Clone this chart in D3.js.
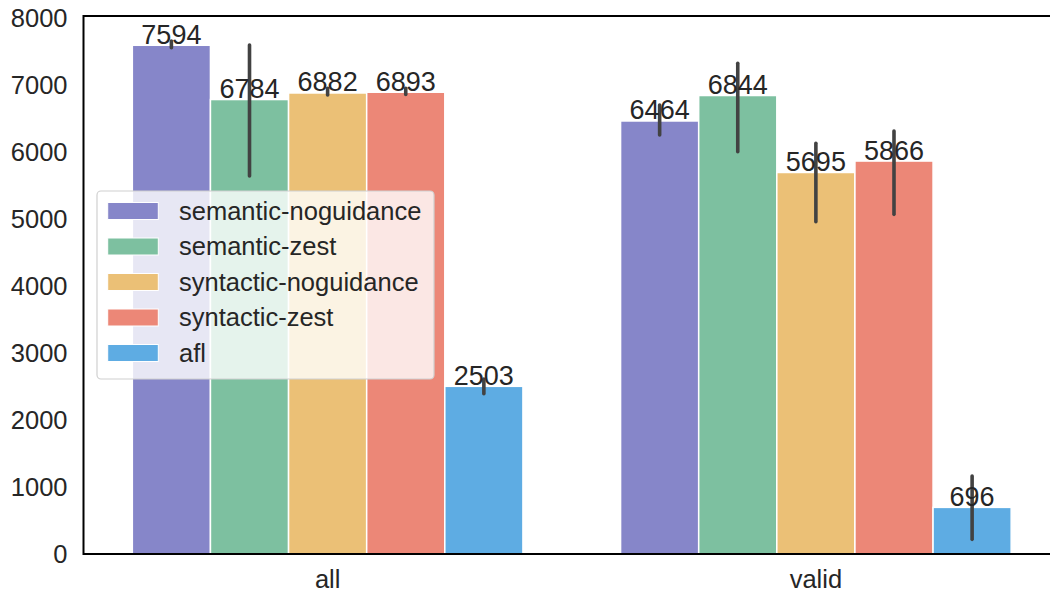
<!DOCTYPE html>
<html>
<head>
<meta charset="utf-8">
<script src="https://cdn.jsdelivr.net/npm/d3@7"></script>
<style>
  html, body { margin: 0; padding: 0; background: #fff; }
  svg { display: block; font-family: "Liberation Sans", Arial, sans-serif; }
</style>
</head>
<body>
<svg id="chart" width="1050" height="594"></svg>
<script>
const categories = ["all", "valid"];
const seriesNames = ["semantic-noguidance", "semantic-zest", "syntactic-noguidance", "syntactic-zest", "afl"];
const seriesColors = ["#8686c9", "#7dc0a0", "#ebc076", "#ec8777", "#5eace3"];
// mean values per series, [all, valid]
const semanticNoguidance = [7594, 6464];
const semanticZest = [6784, 6844];
const syntacticNoguidance = [6882, 5695];
const syntacticZest = [6893, 5866];
const afl = [2503, 696];
// error bar low / high per series, [all, valid]
const errLow = [[7557, 6254], [5642, 6004], [6851, 4960], [6861, 5070], [2393, 219]];
const errHigh = [[7657, 6701], [7597, 7324], [6951, 6130], [6951, 6313], [2612, 1164]];
const yTicks = [0, 1000, 2000, 3000, 4000, 5000, 6000, 7000, 8000];

const seriesValues = [semanticNoguidance, semanticZest, syntacticNoguidance, syntacticZest, afl];

const svg = d3.select("#chart");
const plotLeft = 83.5, plotTop = 16, plotBottom = 554, plotRightExt = 1060;

const x = d3.scaleBand().domain(categories).range([plotLeft, plotRightExt]).padding(0);
const inner = d3.scaleBand().domain(seriesNames)
  .range([x.bandwidth() * 0.1, x.bandwidth() * 0.9]).padding(0);
const y = d3.scaleLinear().domain([0, 8031]).range([plotBottom, plotTop]);
const color = d3.scaleOrdinal().domain(seriesNames).range(seriesColors);

const data = [];
seriesNames.forEach((s, si) => {
  categories.forEach((c, ci) => {
    data.push({ series: s, cat: c, value: seriesValues[si][ci], lo: errLow[si][ci], hi: errHigh[si][ci] });
  });
});

const textColor = "#262626";

// bars
svg.append("g").selectAll("rect").data(data).join("rect")
  .attr("x", d => x(d.cat) + inner(d.series))
  .attr("y", d => y(d.value))
  .attr("width", inner.bandwidth())
  .attr("height", d => y(0) - y(d.value))
  .attr("fill", d => color(d.series))
  .attr("stroke", "#ffffff")
  .attr("stroke-width", 1.5);

// error bars
svg.append("g").selectAll("line").data(data).join("line")
  .attr("x1", d => x(d.cat) + inner(d.series) + inner.bandwidth() / 2)
  .attr("x2", d => x(d.cat) + inner(d.series) + inner.bandwidth() / 2)
  .attr("y1", d => y(d.lo))
  .attr("y2", d => y(d.hi))
  .attr("stroke", "#424242")
  .attr("stroke-width", 3.6)
  .attr("stroke-linecap", "round");

// value labels
svg.append("g").selectAll("text").data(data).join("text")
  .attr("x", d => x(d.cat) + inner(d.series) + inner.bandwidth() / 2)
  .attr("y", d => y(d.value) - 1.5)
  .attr("text-anchor", "middle")
  .attr("font-size", 27)
  .attr("fill", textColor)
  .text(d => d.value);

// y axis
const yAxis = d3.axisLeft(y).tickValues(yTicks).tickSize(0).tickPadding(16).tickFormat(d3.format("d"));
const gy = svg.append("g").attr("transform", `translate(${plotLeft},0)`).call(yAxis);
gy.select(".domain").remove();
gy.selectAll("text").attr("font-size", 25.5).attr("fill", textColor).attr("font-family", "Liberation Sans, Arial, sans-serif");

// x axis
const xAxis = d3.axisBottom(x).tickSize(0).tickPadding(16);
const gx = svg.append("g").attr("transform", `translate(0,${plotBottom})`).call(xAxis);
gx.select(".domain").remove();
gx.selectAll("text").attr("font-size", 25.5).attr("fill", textColor).attr("font-family", "Liberation Sans, Arial, sans-serif");

// spines
svg.append("line").attr("x1", plotLeft).attr("x2", 1050).attr("y1", plotTop).attr("y2", plotTop).attr("stroke", "#000").attr("stroke-width", 2);
svg.append("line").attr("x1", plotLeft).attr("x2", 1050).attr("y1", plotBottom).attr("y2", plotBottom).attr("stroke", "#000").attr("stroke-width", 2);
svg.append("line").attr("x1", plotLeft).attr("x2", plotLeft).attr("y1", plotTop - 1).attr("y2", plotBottom + 1).attr("stroke", "#000").attr("stroke-width", 2);

// legend
const lg = svg.append("g");
lg.append("rect").attr("x", 97).attr("y", 191).attr("width", 337).attr("height", 188)
  .attr("rx", 4).attr("fill", "#ffffff").attr("fill-opacity", 0.8)
  .attr("stroke", "#d0d0d0").attr("stroke-width", 1.2);
const rows = lg.selectAll("g.row").data(seriesNames).join("g")
  .attr("transform", (d, i) => `translate(0,${211 + i * 35.5})`);
rows.append("rect").attr("x", 107.7).attr("y", -8.5).attr("width", 50.6).attr("height", 17)
  .attr("fill", d => color(d)).attr("stroke", "#fff").attr("stroke-width", 1);
rows.append("text").attr("x", 179).attr("y", 0).attr("dy", "0.35em")
  .attr("font-size", 25.5).attr("fill", textColor).text(d => d);
</script>
</body>
</html>
